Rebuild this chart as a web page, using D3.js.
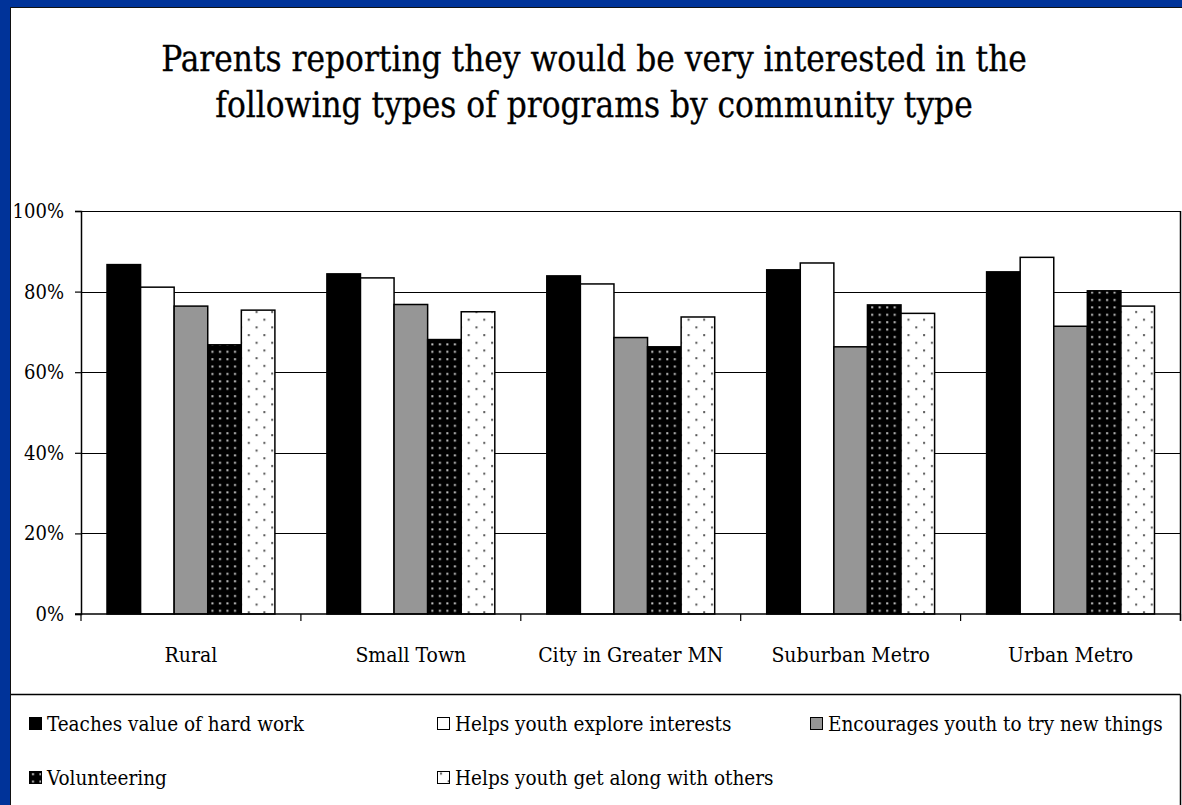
<!DOCTYPE html>
<html>
<head>
<meta charset="utf-8">
<script src="https://cdn.jsdelivr.net/npm/d3@7"></script>
<style>
  html, body { margin: 0; padding: 0; background: #fff; }
  svg { display: block; }
  text { font-family: "DejaVu Serif Condensed", "DejaVu Serif", serif; font-stretch: condensed; fill: #000; }
</style>
</head>
<body>
<svg id="chart" width="1182" height="805"></svg>
<script>
// ---- data ----
const categories = ["Rural", "Small Town", "City in Greater MN", "Suburban Metro", "Urban Metro"];
const seriesNames = [
  "Teaches value of hard work",
  "Helps youth explore interests",
  "Encourages youth to try new things",
  "Volunteering",
  "Helps youth get along with others"
];
const hardWork         = [86.7, 84.4, 83.9, 85.4, 84.9];
const exploreInterests = [81.1, 83.4, 81.9, 87.1, 88.5];
const tryNewThings     = [76.4, 76.8, 68.6, 66.3, 71.4];
const volunteering     = [66.8, 68.1, 66.3, 76.7, 80.2];
const getAlong         = [75.4, 75.0, 73.7, 74.6, 76.4];
const seriesValues = [hardWork, exploreInterests, tryNewThings, volunteering, getAlong];
const yTicks = [0, 20, 40, 60, 80, 100];
const titleLines = [
  "Parents reporting they would be very interested in the",
  "following types of programs by community type"
];

// ---- drawing ----
const svg = d3.select("#chart");
const W = 1182, H = 805;
const FONT = '"DejaVu Serif Condensed", "DejaVu Serif", serif';

// frame
svg.append("rect").attr("x", 0).attr("y", 0).attr("width", W).attr("height", H).attr("fill", "#003399");
svg.append("rect").attr("x", 11).attr("y", 8).attr("width", W - 11).attr("height", H - 8).attr("fill", "#fff");
svg.append("line").attr("x1", 10.5).attr("x2", 10.5).attr("y1", 7.5).attr("y2", H).attr("stroke", "#111").attr("stroke-width", 1);
svg.append("line").attr("x1", 10.5).attr("x2", W).attr("y1", 7.5).attr("y2", 7.5).attr("stroke", "#111").attr("stroke-width", 1);

// patterns
const defs = svg.append("defs");
const pv = defs.append("pattern").attr("id", "patVol").attr("patternUnits", "userSpaceOnUse")
  .attr("width", 7.5).attr("height", 7.4);
pv.append("rect").attr("width", 7.5).attr("height", 7.4).attr("fill", "#000");
pv.append("rect").attr("x", 3).attr("y", 3).attr("width", 2).attr("height", 2).attr("fill", "#c8c8c8");

const pd = defs.append("pattern").attr("id", "patDot").attr("patternUnits", "userSpaceOnUse")
  .attr("width", 15.6).attr("height", 15.4);
pd.append("rect").attr("width", 15.6).attr("height", 15.4).attr("fill", "#fff");
pd.append("rect").attr("x", 3).attr("y", 3).attr("width", 2).attr("height", 2).attr("fill", "#555");
pd.append("rect").attr("x", 10.8).attr("y", 10.7).attr("width", 2).attr("height", 2).attr("fill", "#555");

const fills = ["#000", "#fff", "#969696", "url(#patVol)", "url(#patDot)"];

// title
svg.selectAll("text.title").data(titleLines).enter().append("text")
  .attr("class", "title")
  .attr("x", 594)
  .attr("y", (d, i) => 71 + i * 46)
  .attr("text-anchor", "middle")
  .style("font-size", "34.8px")
  .attr("stroke", "#000").attr("stroke-width", 0.3)
  .text(d => d);

// scales
const plotL = 81, plotR = 1180.5, plotT = 211, plotB = 614;
const x0 = d3.scaleBand().domain(categories).range([plotL, plotR]).paddingInner(0).paddingOuter(0);
const x1 = d3.scaleBand().domain(d3.range(seriesNames.length))
  .range([26, x0.bandwidth() - 26]).padding(0);
const y = d3.scaleLinear().domain([0, 100]).range([plotB, plotT]);

// gridlines
svg.append("g").selectAll("line").data(yTicks.filter(d => d > 0)).enter().append("line")
  .attr("x1", plotL).attr("x2", plotR)
  .attr("y1", d => Math.round(y(d)) + 0.5).attr("y2", d => Math.round(y(d)) + 0.5)
  .attr("stroke", "#000").attr("stroke-width", 1.2);

// right border of plot
svg.append("line").attr("x1", plotR).attr("x2", plotR).attr("y1", y(100)).attr("y2", plotB + 7)
  .attr("stroke", "#000").attr("stroke-width", 1.5);

// bars
const groups = svg.append("g").selectAll("g").data(categories).enter().append("g")
  .attr("transform", d => `translate(${x0(d)},0)`);
groups.selectAll("rect").data((c, ci) => seriesValues.map((vals, si) => ({ si, v: vals[ci] })))
  .enter().append("rect")
  .attr("x", d => x1(d.si))
  .attr("width", x1.bandwidth())
  .attr("y", d => y(d.v))
  .attr("height", d => y(0) - y(d.v))
  .attr("fill", d => fills[d.si])
  .attr("stroke", "#000")
  .attr("stroke-width", 1.5);

// y axis
const yAxis = d3.axisLeft(y).tickValues(yTicks).tickFormat(d => d + "%").tickSize(6).tickPadding(11);
const gy = svg.append("g").attr("transform", `translate(${plotL},0)`).call(yAxis);
gy.select(".domain").attr("stroke", "#000").attr("stroke-width", 1.5);
gy.selectAll(".tick line").attr("stroke", "#000").attr("stroke-width", 1.2);
gy.selectAll(".tick text").style("font-size", "20px").style("font-family", FONT).attr("fill", "#000");

// x axis
const xAxis = d3.axisBottom(x0).tickSize(0).tickPadding(33);
const gx = svg.append("g").attr("transform", `translate(0,${plotB})`).call(xAxis);
gx.select(".domain").remove();
gx.selectAll(".tick text").style("font-size", "21px").style("font-family", FONT).attr("fill", "#000");
svg.append("line").attr("x1", plotL - 6).attr("x2", plotR).attr("y1", plotB).attr("y2", plotB)
  .attr("stroke", "#000").attr("stroke-width", 1.5);
svg.append("g").selectAll("line").data(categories.map(c => x0(c)).concat([plotR])).enter().append("line")
  .attr("x1", d => d).attr("x2", d => d).attr("y1", plotB).attr("y2", plotB + 7)
  .attr("stroke", "#000").attr("stroke-width", 1.2);

// legend box
svg.append("line").attr("x1", 11).attr("x2", plotR).attr("y1", 694.5).attr("y2", 694.5)
  .attr("stroke", "#000").attr("stroke-width", 1.5);
svg.append("line").attr("x1", plotR).attr("x2", plotR).attr("y1", 694.5).attr("y2", H)
  .attr("stroke", "#000").attr("stroke-width", 1.5);

const legendPos = [
  { x: 29, y: 731 }, { x: 437, y: 731 }, { x: 810, y: 731 },
  { x: 29, y: 785 }, { x: 437, y: 785 }
];
const lg = svg.append("g").selectAll("g").data(seriesNames).enter().append("g")
  .attr("transform", (d, i) => `translate(${legendPos[i].x},${legendPos[i].y})`);
lg.append("rect").attr("x", 0.5).attr("y", -13.5).attr("width", 12).attr("height", 12)
  .attr("fill", (d, i) => fills[i]).attr("stroke", "#000").attr("stroke-width", 1);
lg.append("text").attr("x", 18).attr("y", 0).style("font-size", "20.5px").text(d => d);
</script>
</body>
</html>
